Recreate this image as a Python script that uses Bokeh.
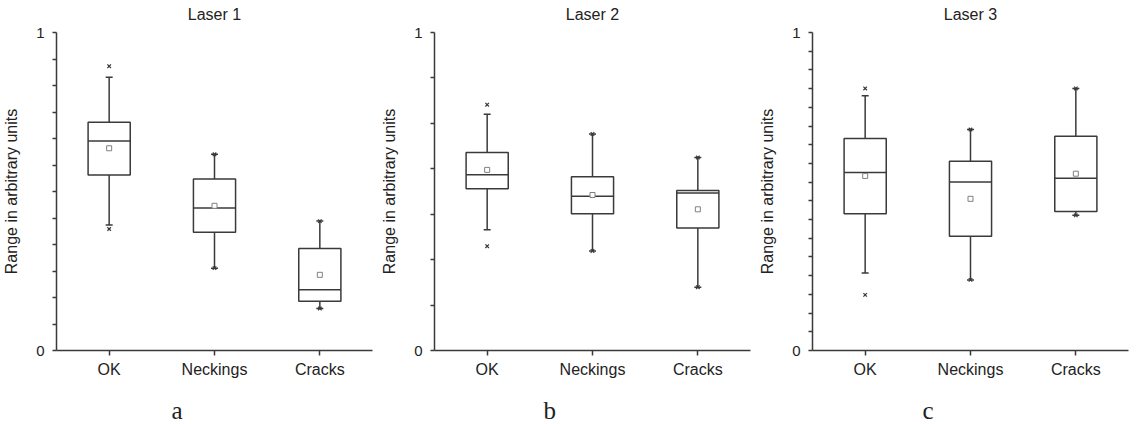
from bokeh.plotting import figure
from bokeh.layouts import row
from bokeh.models import Range1d, FixedTicker, Title, ColumnDataSource, CustomJSTickFormatter
from bokeh.transform import dodge
from bokeh.embed import file_html
from bokeh.resources import INLINE

categories = ["OK", "Neckings", "Cracks"]
titles = ["Laser 1", "Laser 2", "Laser 3"]
letters = ["a", "b", "c"]
y_tick_divisions = [12, 7, 17]

# Laser 1
l1_q1 = [0.552, 0.372, 0.155]
l1_median = [0.659, 0.448, 0.191]
l1_q3 = [0.718, 0.539, 0.321]
l1_mean = [0.636, 0.455, 0.238]
l1_lower = [0.395, 0.259, 0.132]
l1_upper = [0.859, 0.617, 0.407]
l1_min = [0.382, 0.259, 0.132]
l1_max = [0.894, 0.617, 0.407]

# Laser 2
l2_q1 = [0.509, 0.430, 0.385]
l2_median = [0.553, 0.485, 0.495]
l2_q3 = [0.623, 0.546, 0.503]
l2_mean = [0.568, 0.489, 0.444]
l2_lower = [0.380, 0.313, 0.199]
l2_upper = [0.743, 0.681, 0.607]
l2_min = [0.328, 0.313, 0.199]
l2_max = [0.773, 0.681, 0.607]

# Laser 3
l3_q1 = [0.430, 0.359, 0.437]
l3_median = [0.560, 0.530, 0.542]
l3_q3 = [0.667, 0.595, 0.674]
l3_mean = [0.549, 0.477, 0.556]
l3_lower = [0.244, 0.222, 0.425]
l3_upper = [0.801, 0.695, 0.824]
l3_min = [0.175, 0.222, 0.425]
l3_max = [0.824, 0.695, 0.824]

panels = [
    (l1_q1, l1_median, l1_q3, l1_mean, l1_lower, l1_upper, l1_min, l1_max),
    (l2_q1, l2_median, l2_q3, l2_mean, l2_lower, l2_upper, l2_min, l2_max),
    (l3_q1, l3_median, l3_q3, l3_mean, l3_lower, l3_upper, l3_min, l3_max),
]

LINE = "#3a3a3a"
TEXT = "#222222"
SANS = "Liberation Sans"
SERIF = "Liberation Serif"
widths = [378, 378, 380]
right_borders = [6, 6, 8]
letter_offsets = [115, 109, 110]

yfmt = CustomJSTickFormatter(code="return (Math.abs(tick) < 1e-9) ? '0' : (Math.abs(tick - 1) < 1e-9 ? '1' : '');")


def spacer(standoff):
    # blank layout spacer panel (white blank text on white background)
    return Title(text=" ", text_font_size="1px", standoff=standoff, text_color="white")


figs = []
for i, (q1, med, q3, mean, lo, up, mn, mx) in enumerate(panels):
    src = ColumnDataSource(dict(cat=categories, q1=q1, med=med, q3=q3, mean=mean,
                                lo=lo, up=up, mn=mn, mx=mx))
    p = figure(x_range=categories, y_range=Range1d(0, 1), width=widths[i], height=424,
               output_backend="svg", toolbar_location=None,
               min_border_left=55, min_border_right=right_borders[i],
               min_border_top=32, min_border_bottom=74)
    p.outline_line_color = None
    p.xgrid.visible = False
    p.ygrid.visible = False

    # title: spacer next to the frame, then the text above it
    p.add_layout(spacer(7), "above")
    p.add_layout(Title(text=titles[i], align="center", text_font=SANS, text_font_size="16px",
                       text_font_style="normal", text_color=TEXT, standoff=0), "above")

    n = y_tick_divisions[i]
    p.yaxis.ticker = FixedTicker(ticks=[k / n for k in range(n + 1)])
    p.yaxis.formatter = yfmt
    p.yaxis.axis_label = "Range in arbitrary units"
    p.yaxis.axis_label_text_font = SANS
    p.yaxis.axis_label_text_font_size = "16px"
    p.yaxis.axis_label_text_font_style = "normal"
    p.yaxis.axis_label_text_color = TEXT
    p.yaxis.axis_label_standoff = 13
    for ax in (p.xaxis[0], p.yaxis[0]):
        ax.axis_line_color = LINE
        ax.axis_line_width = 1.5
        ax.major_tick_line_color = LINE
        ax.major_tick_line_width = 1.5
        ax.minor_tick_line_color = None
        ax.major_tick_in = 0
        ax.major_tick_out = 4
        ax.major_label_text_font = SANS
        ax.major_label_text_color = TEXT
    p.yaxis.major_label_text_font_size = "15px"
    p.yaxis.major_label_standoff = 8
    p.xaxis.major_label_text_font_size = "16px"
    p.xaxis.major_label_standoff = 5
    p.xaxis.major_tick_out = 5

    # whiskers
    p.segment(x0="cat", y0="q3", x1="cat", y1="up", source=src, line_color=LINE, line_width=1.5)
    p.segment(x0="cat", y0="q1", x1="cat", y1="lo", source=src, line_color=LINE, line_width=1.5)
    # caps
    p.scatter(x="cat", y="up", source=src, marker="dash", size=7, line_color=LINE, line_width=1.5)
    p.scatter(x="cat", y="lo", source=src, marker="dash", size=7, line_color=LINE, line_width=1.5)
    # boxes
    p.vbar(x="cat", width=0.4, top="q3", bottom="q1", source=src,
           fill_color="white", line_color=LINE, line_width=1.5)
    # median
    p.segment(x0=dodge("cat", -0.2, range=p.x_range), y0="med",
              x1=dodge("cat", 0.2, range=p.x_range), y1="med",
              source=src, line_color=LINE, line_width=1.5)
    # mean
    p.scatter(x="cat", y="mean", source=src, marker="square", size=5,
              fill_color="white", line_color="#808080", line_width=1)
    # extremes
    p.scatter(x="cat", y="mn", source=src, marker="x", size=5, line_color=LINE, line_width=1.2)
    p.scatter(x="cat", y="mx", source=src, marker="x", size=5, line_color=LINE, line_width=1.2)

    # panel letter below the category labels
    p.add_layout(spacer(11), "below")
    p.add_layout(Title(text=letters[i], align="left", offset=letter_offsets[i],
                       text_font=SERIF, text_font_size="25px", text_font_style="normal",
                       text_color=TEXT, standoff=0), "below")
    figs.append(p)

layout = row(*figs)
open("out.html", "w").write(file_html(layout, INLINE))
